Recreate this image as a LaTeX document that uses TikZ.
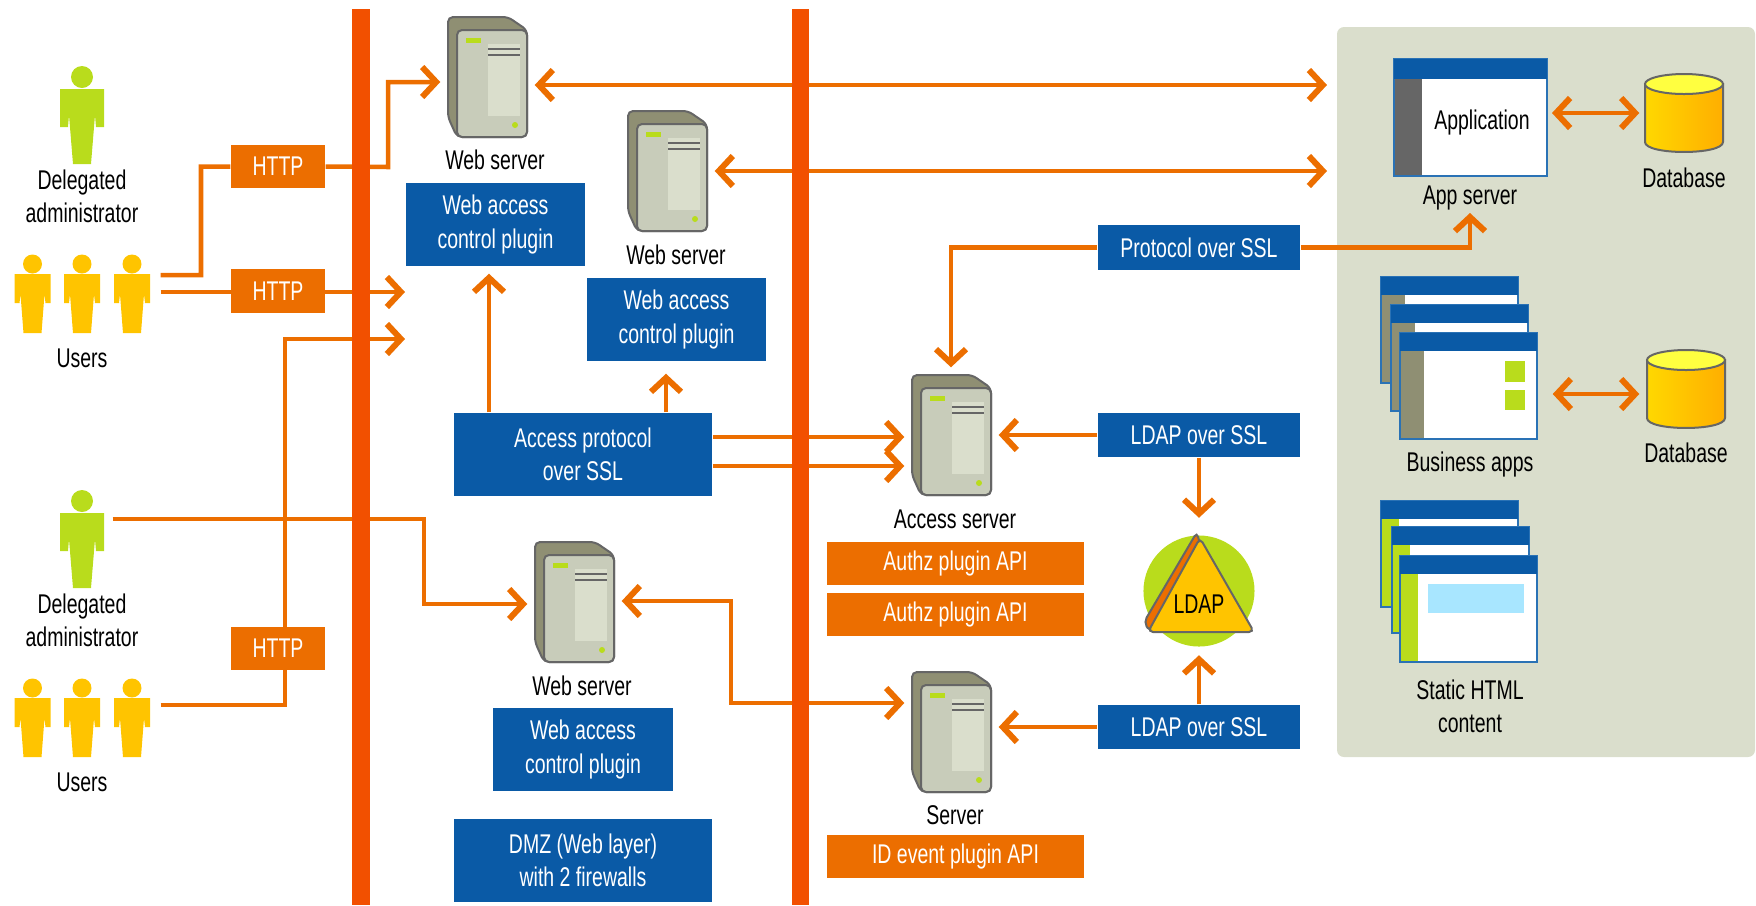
\documentclass[tikz,border=0pt]{standalone}
\usepackage{fontspec}
\setmainfont[FakeStretch=0.72]{Liberation Sans}
\usetikzlibrary{arrows.meta,backgrounds}
\usepackage{xcolor}
\definecolor{colorf25000}{HTML}{f25000}
\definecolor{colorec6e00}{HTML}{ec6e00}
\definecolor{color0a5aa6}{HTML}{0a5aa6}
\definecolor{color2a72b5}{HTML}{2a72b5}
\definecolor{colordadfcf}{HTML}{dadecc}
\definecolor{colorc8ccba}{HTML}{c8ccba}
\definecolor{color8f8f73}{HTML}{8f8f73}
\definecolor{color666666}{HTML}{666666}
\definecolor{colorb9dc1c}{HTML}{b9dc1c}
\definecolor{colorffc400}{HTML}{ffc400}
\definecolor{colorffae00}{HTML}{ffae00}
\definecolor{colorffd800}{HTML}{ffd800}
\definecolor{colorffff40}{HTML}{ffff40}
\definecolor{colora8e6ff}{HTML}{a8e6ff}
\tikzset{
  bluebox/.style={shape=rectangle, fill=color0a5aa6, inner sep=0, align=center, text=white, font=\fontsize{7.7}{9.4}\selectfont},
  orangebox/.style={bluebox, fill=colorec6e00},
  plaintext/.style={inner sep=0, align=center, text=black, font=\fontsize{7.7}{9.4}\selectfont},
  flow/.style={draw=colorec6e00, line width=0.045cm},
  pics/server/.style={code={
    \node[minimum width=0.93cm, minimum height=1.34cm, inner sep=0] (-body) at (39.5,60) {};
    \draw[fill=color8f8f73, draw=color666666, line width=0.02cm, rounded corners=0.05cm] (0,0) -- (60,0) -- (79,13) -- (79,120) -- (9,120) -- (0,100) -- cycle;
    \draw[fill=colorc8ccba, draw=color666666, line width=0.02cm, rounded corners=0.05cm] (9,13) rectangle (79,120);
    \fill[colorb9dc1c] (18,21) rectangle (33,26);
    \fill[colordadfcf] (40,27) rectangle (72,99);
    \draw[color666666, line width=0.015cm] (40,32) -- (72,32) (40,38) -- (72,38);
    \fill[colorb9dc1c] (67,108) circle (3);
  }},
  pics/admin/.style={code={
    \node[minimum width=0.6cm, minimum height=0.98cm, inner sep=0] (-body) at (0,38) {};
    \fill[colorb9dc1c] (0,0) circle (11);
    \fill[colorb9dc1c] (-22,12) -- (22,12) -- (22,50) -- (14,50) -- (13,38) -- (9,87) -- (-9,87) -- (-13,38) -- (-14,50) -- (-22,50) -- cycle;
  }},
  pics/usergroup/.style={code={
    \node[minimum width=1.56cm, minimum height=0.78cm, inner sep=0] (-body) at (0,30) {};
    \foreach \dx in {-49.5,0,50}{
      \fill[colorffc400] (\dx,0) circle (9.5);
      \fill[colorffc400] (\dx-18,10) -- (\dx+18,10) -- (\dx+18,39) -- (\dx+13,39) -- (\dx+12,30) -- (\dx+9,69) -- (\dx-9,69) -- (\dx-12,30) -- (\dx-13,39) -- (\dx-18,39) -- cycle;
    }
  }},
  pics/database/.style={code={
    \node[minimum width=0.78cm, minimum height=0.78cm, inner sep=0] (-body) at (39,39) {};
    \draw[left color=colorffd800, middle color=colorffd800, right color=colorffae00, draw=color666666, line width=0.02cm] (0,10) -- (0,68) .. controls (0,81.3) and (78,81.3) .. (78,68) -- (78,10) -- cycle;
    \draw[fill=colorffff40, draw=color666666, line width=0.02cm] (39,10) ellipse [x radius=39, y radius=10];
  }},
  pics/stackwin/.style n args={2}{code={
    \node[minimum width=1.37cm, minimum height=1.06cm, inner sep=0] (-body) at (68.5,53) {};
    \draw[fill=white, draw=color2a72b5, line width=0.02cm] (0,0) rectangle (137,106);
    \fill[#1] (1,18) rectangle (#2,105);
    \fill[color0a5aa6] (0,0) rectangle (137,18);
  }},
}

\begin{document}
\begin{tikzpicture}
    [x=0.01cm, y=-0.01cm,
    >={Straight Barb[length=0.14cm, width=0.3cm, line width=0.06cm]},
    ]
\useasboundingbox (0,0) rectangle (1756,905);

% people, left side
\pic (node_admin_a) at (82,77) {admin};
\node[plaintext] (text_admin_a) at (82,196) {Delegated\\administrator};
\pic (node_users_a) at (82,264) {usergroup};
\node[plaintext] (text_users_a) at (82,358) {Users};
\pic (node_admin_b) at (82,501) {admin};
\node[plaintext] (text_admin_b) at (82,620) {Delegated\\administrator};
\pic (node_users_b) at (82,688) {usergroup};
\node[plaintext] (text_users_b) at (82,782) {Users};

\node[orangebox, minimum width=0.94cm, minimum height=0.43cm] (node_http_a) at (278,166.5) {HTTP};
\node[orangebox, minimum width=0.94cm, minimum height=0.43cm] (node_http_b) at (278,291) {HTTP};
\node[orangebox, minimum width=0.94cm, minimum height=0.43cm] (node_http_c) at (278,648) {HTTP};

% servers
\pic (node_web_a) at (448,17) {server};
\node[plaintext] (text_web_a) at (495,160) {Web server};
\pic (node_web_b) at (628,111) {server};
\node[plaintext] (text_web_b) at (676,255) {Web server};
\pic (node_web_c) at (535,542) {server};
\node[plaintext] (text_web_c) at (582,686) {Web server};
\pic (node_access) at (912,375) {server};
\node[plaintext] (text_access) at (955,519) {Access server};
\pic (node_idsrv) at (912,672) {server};
\node[plaintext] (text_idsrv) at (955,815) {Server};

\node[bluebox, minimum width=1.79cm, minimum height=0.83cm] (node_plugin_a) at (495.5,224.5) {Web access\\control plugin};
\node[bluebox, minimum width=1.79cm, minimum height=0.83cm] (node_plugin_b) at (676.5,319.5) {Web access\\control plugin};
\node[bluebox, minimum width=1.8cm, minimum height=0.83cm] (node_plugin_c) at (583,749.5) {Web access\\control plugin};
\node[bluebox, minimum width=2.58cm, minimum height=0.83cm] (node_protocol) at (583,454.5) {Access protocol\\over SSL};
\node[bluebox, minimum width=2.58cm, minimum height=0.83cm] (node_dmz) at (583,860.5) {DMZ (Web layer)\\with 2 firewalls};
\node[bluebox, minimum width=2.02cm, minimum height=0.45cm] (node_ssl) at (1199,247.5) {Protocol over SSL};
\node[bluebox, minimum width=2.02cm, minimum height=0.44cm] (node_ldap_a) at (1199,435) {LDAP over SSL};
\node[bluebox, minimum width=2.02cm, minimum height=0.44cm] (node_ldap_b) at (1199,727) {LDAP over SSL};
\node[orangebox, minimum width=2.57cm, minimum height=0.43cm] (node_authz_a) at (955.5,563.5) {Authz plugin API};
\node[orangebox, minimum width=2.57cm, minimum height=0.43cm] (node_authz_b) at (955.5,614) {Authz plugin API};
\node[orangebox, minimum width=2.57cm, minimum height=0.43cm] (node_idevent) at (955.5,856) {ID event plugin API};

% LDAP directory
\node[shape=circle, fill=colorb9dc1c, minimum size=1.11cm, inner sep=0] (node_ldap) at (1199,591) {};
\draw[fill=colorec6e00, draw=color666666, line width=0.02cm, rounded corners=0.05cm] (1197,532) -- (1144,622) -- (1150,632) -- (1200,545) -- cycle;
\draw[fill=colorffc400, draw=color666666, line width=0.02cm, rounded corners=0.05cm] (1200,538) -- (1254,632) -- (1148,632) -- cycle;
\node[plaintext] (text_ldap) at (1199,604) {LDAP};

% right panel content
\draw[fill=white, draw=color2a72b5, line width=0.02cm] (1394,59) rectangle (1547,176);
\fill[color666666] (1395,79) rectangle (1422,175);
\fill[color0a5aa6] (1394,59) rectangle (1547,79);
\node[plaintext] (node_app) at (1482,122) {Application};
\node[plaintext] (text_app) at (1470,198) {App server};
\pic (node_db_a) at (1645,74) {database};
\node[plaintext] (text_db_a) at (1684,178) {Database};
\pic (node_db_b) at (1647,350) {database};
\node[plaintext] (text_db_b) at (1686,453) {Database};

\pic (node_biz_a) at (1381,277) {stackwin={color8f8f73}{24}};
\pic (node_biz_b) at (1391,305) {stackwin={color8f8f73}{24}};
\pic (node_biz_c) at (1400,333) {stackwin={color8f8f73}{24}};
\fill[colorb9dc1c] (1505,361) rectangle (1525,382);
\fill[colorb9dc1c] (1505,390) rectangle (1525,410);
\node[plaintext] (text_biz) at (1470,464) {Business apps};

\pic (node_html_a) at (1381,501) {stackwin={colorb9dc1c}{18}};
\pic (node_html_b) at (1392,527) {stackwin={colorb9dc1c}{18}};
\pic (node_html_c) at (1400,556) {stackwin={colorb9dc1c}{18}};
\fill[colora8e6ff] (1428,584) rectangle (1524,613);
\node[plaintext] (text_html) at (1470,706.5) {Static HTML\\content};

\coordinate (end_open_a) at (405,292);
\coordinate (end_open_b) at (405,339);
\coordinate (end_app_a) at (1327,85);
\coordinate (end_app_b) at (1327,171);
\coordinate (end_app_c) at (1470,213);

\begin{scope}[on background layer]
\fill[colordadfcf, rounded corners=0.07cm] (1337,27) rectangle (1755,757);

\draw[flow,->] (node_users_a-body.east |- 0,275) -- (201,275) |- (node_http_a.west) (node_http_a.east) -- (388,167) |- (node_web_a-body.west |- 0,82);
\draw[flow,->] (node_users_a-body.east |- 0,292) -- (end_open_a);
\draw[flow,->] (node_users_b-body.east |- 0,705) -| (285,339) -- (end_open_b);
\draw[flow,->] (node_admin_b-body.east |- 0,519) -| (424,604) -- (node_web_c-body.west |- 0,604);
\draw[flow,<->] (node_web_a-body.east |- 0,85) -- (end_app_a);
\draw[flow,<->] (node_web_b-body.east |- 0,171) -- (end_app_b);
\draw[flow,->] (node_ssl.west) -| (node_access-body.north -| 951,0);
\draw[flow,->] (node_ssl.east) -| (end_app_c);
\draw[flow,->, shorten >=0.07cm] (489,0 |- node_protocol.north) -- (489,0 |- node_plugin_a.south);
\draw[flow,->, shorten >=0.12cm] (666,0 |- node_protocol.north) -- (666,0 |- node_plugin_b.south);
\draw[flow,->] (node_protocol.east |- 0,437) -- (node_access-body.west |- 0,437);
\draw[flow,->] (node_protocol.east |- 0,466) -- (node_access-body.west |- 0,466);
\draw[flow,->] (node_ldap_a.west) -- (node_access-body.east |- node_ldap_a.west);
\draw[flow,->, shorten >=0.17cm] (node_ldap_a.south) -- (node_ldap.north);
\draw[flow,->, shorten >=0.08cm] (node_ldap_b.north) -- (node_ldap.south);
\draw[flow,->] (node_ldap_b.west) -- (node_idsrv-body.east |- node_ldap_b.west);
\draw[flow,<->] (node_web_c-body.east |- 0,601) -| (731,703) -- (node_idsrv-body.west |- 0,703);
\draw[flow,<->, shorten <=0.05cm, shorten >=0.05cm] (1547,113) -- (node_db_a-body.west |- 0,113);
\draw[flow,<->, shorten <=0.15cm, shorten >=0.07cm] (node_biz_c-body.east |- 0,394) -- (node_db_b-body.west |- 0,394);

% firewalls over the lines
\fill[colorf25000] (352,9) rectangle (370,905);
\fill[colorf25000] (792,9) rectangle (809,905);
\end{scope}

\end{tikzpicture}
\end{document}
